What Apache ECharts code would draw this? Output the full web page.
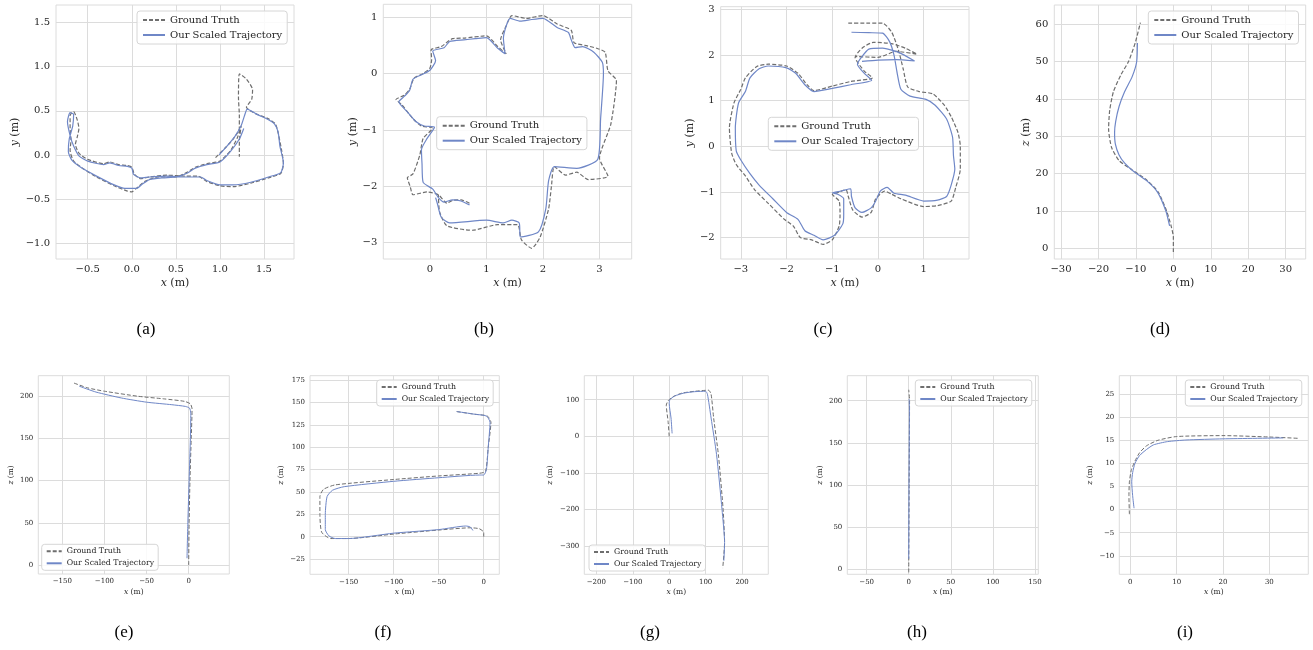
<!DOCTYPE html>
<html><head><meta charset="utf-8">
<script src="https://cdn.jsdelivr.net/npm/echarts@6/dist/echarts.min.js"></script>
<style>html,body{margin:0;padding:0;background:#fff}#c{width:1313px;height:650px}</style>
</head><body><div id="c"></div>
<script>
// ---------- data ----------
const seriesNames = ['Ground Truth', 'Our Scaled Trajectory'];

const aGT = [[0.95,-0.03],[1.05,0.07],[1.15,0.18],[1.22,0.3],[1.22,0.45],[1.21,0.65],[1.22,0.92],[1.3,0.86],[1.37,0.74],[1.36,0.63],[1.3,0.54],[1.4,0.47],[1.55,0.41],[1.63,0.35],[1.66,0.25],[1.7,0.05],[1.72,-0.1],[1.69,-0.21],[1.55,-0.26],[1.35,-0.32],[1.15,-0.36],[1.0,-0.35],[0.85,-0.3],[0.75,-0.24],[0.6,-0.24],[0.4,-0.23],[0.2,-0.25],[0.1,-0.27],[0.03,-0.22],[0.0,-0.14],[-0.05,-0.12],[-0.15,-0.11],[-0.25,-0.08],[-0.32,-0.1],[-0.5,-0.05],[-0.6,0.02],[-0.64,0.12],[-0.62,0.2],[-0.6,0.3],[-0.62,0.4],[-0.66,0.49],[-0.7,0.45],[-0.7,0.3],[-0.69,0.17],[-0.7,0.05],[-0.66,-0.07],[-0.56,-0.15],[-0.4,-0.25],[-0.2,-0.35],[-0.05,-0.41],[0.0,-0.42],[0.05,-0.38],[0.15,-0.3],[0.3,-0.25],[0.5,-0.25],[0.62,-0.2],[0.72,-0.14],[0.85,-0.1],[1.0,-0.07],[1.12,0.05],[1.2,0.2],[1.24,0.33],[1.22,0.15],[1.22,-0.02]];
const aOurs = [[0.99,0.0],[1.08,0.1],[1.17,0.21],[1.24,0.33],[1.28,0.45],[1.31,0.52],[1.42,0.46],[1.55,0.4],[1.62,0.35],[1.66,0.26],[1.68,0.1],[1.72,-0.09],[1.69,-0.2],[1.55,-0.25],[1.35,-0.31],[1.15,-0.34],[1.0,-0.34],[0.85,-0.29],[0.78,-0.25],[0.6,-0.25],[0.4,-0.24],[0.2,-0.25],[0.1,-0.26],[0.02,-0.22],[0.0,-0.15],[-0.05,-0.13],[-0.15,-0.12],[-0.25,-0.09],[-0.32,-0.11],[-0.5,-0.07],[-0.6,-0.01],[-0.66,0.1],[-0.7,0.22],[-0.73,0.38],[-0.7,0.48],[-0.66,0.46],[-0.67,0.33],[-0.71,0.18],[-0.72,0.04],[-0.68,-0.06],[-0.58,-0.14],[-0.4,-0.24],[-0.2,-0.34],[-0.08,-0.38],[0.05,-0.38],[0.12,-0.33],[0.2,-0.28],[0.35,-0.26],[0.5,-0.25],[0.62,-0.21],[0.72,-0.15],[0.85,-0.11],[1.0,-0.08],[1.12,0.04],[1.22,0.18],[1.27,0.3]];
const aXTicks = [-0.5, 0, 0.5, 1, 1.5];
const aYTicks = [-1, -0.5, 0, 0.5, 1, 1.5];

const bGT = [[0.7,-2.3],[0.55,-2.24],[0.4,-2.25],[0.3,-2.3],[0.15,-2.15],[-0.05,-2.1],[-0.3,-2.15],[-0.35,-2.0],[-0.4,-1.85],[-0.3,-1.78],[-0.18,-1.45],[-0.12,-1.15],[0.05,-0.97],[-0.15,-0.93],[-0.3,-0.8],[-0.5,-0.55],[-0.6,-0.46],[-0.45,-0.38],[-0.36,-0.28],[-0.28,-0.08],[-0.12,0.0],[0.0,0.1],[0.03,0.25],[0.02,0.42],[0.2,0.48],[0.4,0.62],[0.6,0.63],[1.0,0.67],[1.2,0.48],[1.35,0.35],[1.25,0.6],[1.35,0.85],[1.45,1.03],[1.7,0.98],[2.0,1.03],[2.25,0.88],[2.5,0.77],[2.55,0.55],[2.75,0.5],[2.95,0.45],[3.1,0.38],[3.15,0.05],[3.3,-0.12],[3.2,-0.9],[3.0,-1.5],[3.15,-1.82],[2.8,-1.88],[2.6,-1.75],[2.4,-1.8],[2.2,-1.65],[2.15,-2.0],[2.1,-2.4],[1.95,-2.9],[1.8,-3.1],[1.62,-2.95],[1.55,-2.68],[1.2,-2.68],[0.75,-2.78],[0.3,-2.7],[0.17,-2.45],[0.15,-2.15]];
const bOurs = [[0.7,-2.33],[0.55,-2.26],[0.4,-2.24],[0.25,-2.28],[0.15,-2.2],[0.05,-2.05],[-0.12,-1.93],[-0.14,-1.6],[-0.15,-1.35],[-0.05,-1.15],[0.08,-0.95],[-0.1,-0.93],[-0.25,-0.85],[-0.4,-0.68],[-0.55,-0.5],[-0.45,-0.4],[-0.36,-0.3],[-0.3,-0.1],[-0.15,-0.02],[0.0,0.06],[0.1,0.23],[0.05,0.4],[0.25,0.46],[0.35,0.57],[0.6,0.6],[0.8,0.62],[1.0,0.64],[1.2,0.45],[1.33,0.35],[1.3,0.63],[1.42,0.98],[1.6,0.93],[1.8,0.96],[2.0,0.98],[2.25,0.82],[2.45,0.73],[2.5,0.6],[2.57,0.46],[2.7,0.48],[2.9,0.38],[3.05,0.2],[3.07,0.0],[3.02,-0.8],[2.97,-1.52],[2.6,-1.68],[2.2,-1.65],[2.1,-1.9],[2.05,-2.4],[1.92,-2.81],[1.6,-2.9],[1.58,-2.65],[1.45,-2.6],[1.3,-2.65],[1.0,-2.6],[0.35,-2.65],[0.2,-2.55],[0.13,-2.3],[0.1,-2.2]];
const bXTicks = [0, 1, 2, 3];
const bYTicks = [-3, -2, -1, 0, 1];

const cGT = [[-0.65,2.7],[-0.2,2.7],[0.1,2.7],[0.3,2.5],[0.45,2.1],[0.55,1.7],[0.65,1.3],[0.9,1.2],[1.2,1.15],[1.45,0.9],[1.6,0.65],[1.75,0.3],[1.8,0.0],[1.8,-0.5],[1.7,-0.9],[1.6,-1.2],[1.3,-1.3],[1.0,-1.32],[0.5,-1.15],[0.3,-1.05],[0.15,-0.98],[-0.05,-1.15],[-0.15,-1.45],[-0.35,-1.55],[-0.55,-1.4],[-0.65,-1.1],[-0.7,-0.95],[-0.9,-1.02],[-1.0,-1.05],[-0.85,-1.2],[-0.83,-1.5],[-0.85,-1.75],[-1.0,-2.05],[-1.2,-2.15],[-1.45,-2.05],[-1.7,-2.0],[-1.85,-1.75],[-2.05,-1.6],[-2.4,-1.25],[-2.7,-0.95],[-2.9,-0.65],[-3.1,-0.4],[-3.2,-0.15],[-3.25,0.4],[-3.15,0.95],[-3.0,1.25],[-2.9,1.5],[-2.65,1.75],[-2.4,1.8],[-2.0,1.76],[-1.75,1.6],[-1.55,1.35],[-1.4,1.22],[-1.0,1.32],[-0.6,1.42],[-0.12,1.5],[-0.3,1.65],[-0.5,1.95],[-0.35,2.15],[-0.1,2.28],[0.3,2.25],[0.6,2.15],[0.85,2.02],[0.4,2.08],[0.0,1.95],[-0.5,1.97]];
const cOurs = [[-0.58,2.5],[-0.2,2.49],[0.1,2.48],[0.25,2.3],[0.35,2.0],[0.42,1.6],[0.5,1.25],[0.7,1.1],[1.05,1.03],[1.25,0.9],[1.5,0.6],[1.63,0.2],[1.65,-0.2],[1.68,-0.5],[1.6,-0.85],[1.5,-1.1],[1.3,-1.18],[1.0,-1.2],[0.6,-1.07],[0.35,-1.03],[0.2,-0.9],[0.05,-0.98],[-0.05,-1.2],[-0.15,-1.35],[-0.35,-1.45],[-0.5,-1.35],[-0.58,-1.1],[-0.6,-0.93],[-0.8,-0.98],[-1.0,-1.02],[-0.88,-1.05],[-0.75,-1.15],[-0.75,-1.5],[-0.77,-1.7],[-0.95,-1.95],[-1.2,-2.05],[-1.4,-1.95],[-1.6,-1.85],[-1.75,-1.6],[-2.0,-1.45],[-2.3,-1.15],[-2.6,-0.85],[-2.8,-0.6],[-3.0,-0.3],[-3.1,-0.1],[-3.12,0.4],[-3.05,0.95],[-2.9,1.2],[-2.8,1.5],[-2.6,1.7],[-2.4,1.76],[-2.0,1.72],[-1.8,1.6],[-1.6,1.35],[-1.4,1.2],[-1.0,1.27],[-0.6,1.35],[-0.14,1.45],[-0.3,1.6],[-0.45,1.8],[-0.4,1.9],[-0.2,2.13],[0.1,2.15],[0.45,2.06],[0.8,1.87],[0.4,1.9],[0.0,1.89],[-0.35,1.86]];
const cXTicks = [-3, -2, -1, 0, 1];
const cYTicks = [-2, -1, 0, 1, 2, 3];

const dGT = [[0,-1],[0,3],[-0.6,6],[-1.8,10],[-4,15],[-7,18.2],[-11,21],[-14.5,23.5],[-16.5,27],[-17.3,32],[-17,37],[-16,42],[-14,46.5],[-12,50],[-10.2,55],[-8.8,60.5]];
const dOurs = [[-1.0,6],[-2.0,10],[-4.2,15],[-7,18],[-10.5,20.5],[-13,22.8],[-14.5,25],[-15.5,28],[-15.7,31],[-15.4,34],[-14.5,38],[-13,42],[-11,46],[-9.8,50],[-9.6,55]];
const dXTicks = [-30, -20, -10, 0, 10, 20, 30];
const dYTicks = [0, 10, 20, 30, 40, 50, 60];

const eGT = [[0,0],[0.5,50],[1.5,100],[3,150],[4,185],[2,191],[-5,194],[-30,197],[-60,200],[-100,206],[-120,210],[-137,216]];
const eOurs = [[-2,8],[-1,50],[0.5,100],[2,150],[2.5,180],[1,186],[-4,188],[-20,190],[-50,193],[-80,198],[-110,205],[-130,212]];
const eXTicks = [-150, -100, -50, 0];
const eYTicks = [0, 50, 100, 150, 200];

const fGT = [[0,0],[0,5],[-5,9],[-15,10],[-50,7.5],[-100,3],[-150,-2],[-170,-2],[-180,5],[-182,25],[-182,45],[-178,53],[-165,58],[-100,64],[-50,68],[-5,71],[2,73],[5,100],[8,128],[4,135],[-10,137],[-30,140]];
const fOurs = [[-30,140],[-10,137],[3,135],[7,128],[5,100],[3,75],[0,69],[-5,69],[-50,66],[-100,62],[-155,56],[-168,52],[-174,45],[-176,25],[-176,8],[-172,1],[-165,-2],[-150,-2],[-100,4],[-50,8],[-20,12],[-15,11],[-12,7]];
const fXTicks = [-150, -100, -50, 0];
const fYTicks = [-25, 0, 25, 50, 75, 100, 125, 150, 175];

const gGT = [[0,0],[-3,40],[-8,85],[-3,97],[10,108],[35,118],[70,123],[108,126],[115,115],[122,50],[135,-50],[148,-200],[152,-290],[147,-360]];
const gOurs = [[8,8],[5,50],[0,90],[2,100],[15,110],[40,118],[70,122],[100,123],[105,115],[115,50],[130,-50],[145,-200],[152,-290],[150,-340]];
const gXTicks = [-200, -100, 0, 100, 200];
const gYTicks = [-300, -200, -100, 0, 100];

const hGT = [[0,-4],[0.5,100],[1,200],[0,213]];
const hOurs = [[0,12],[0.3,100],[0.8,190],[0.5,202]];
const hXTicks = [-50, 0, 50, 100, 150];
const hYTicks = [0, 50, 100, 150, 200];

const iGT = [[-0.2,-1],[-0.3,3],[-0.2,6],[0.2,8.5],[1,10.5],[2,12.3],[3.5,13.8],[6,15],[10,15.8],[20,16],[30,15.7],[36.5,15.4]];
const iOurs = [[0.8,0.3],[0.5,3],[0.3,6],[0.5,8],[1,10],[2,11.7],[3.5,13],[5,14],[8,14.7],[12,15.05],[20,15.3],[33,15.5]];
const iXTicks = [0, 10, 20, 30];
const iYTicks = [-10, -5, 0, 5, 10, 15, 20, 25];

const captions = ['(a)','(b)','(c)','(d)','(e)','(f)','(g)','(h)','(i)'];

// ---------- layout ----------
const panels = [
  {gt:aGT, ours:aOurs, xt:aXTicks, yt:aYTicks, dec:1, yv:'y', rect:[56,5,238,254],      xr:[-0.86,1.84], yr:[-1.18,1.70], leg:[137,11],     yGap:35, big:true, cap:[146,330]},
  {gt:bGT, ours:bOurs, xt:bXTicks, yt:bYTicks, dec:0, yv:'y', rect:[383.3,4.3,248.4,254.7], xr:[-0.825,3.57], yr:[-3.29,1.23], leg:[436.7,116.7], yGap:24, big:true, cap:[484,330]},
  {gt:cGT, ours:cOurs, xt:cXTicks, yt:cYTicks, dec:0, yv:'y', rect:[720.7,6.7,248.3,252.3], xr:[-3.44,1.99], yr:[-2.47,3.06], leg:[768.3,117.3], yGap:25, big:true, cap:[823,330]},
  {gt:dGT, ours:dOurs, xt:dXTicks, yt:dYTicks, dec:0, yv:'z', rect:[1054.3,5,251.4,254],  xr:[-31.8,35.35], yr:[-2.87,65.2], leg:[1148.3,11],   yGap:22, big:true, cap:[1160,330]},
  {gt:eGT, ours:eOurs, xt:eXTicks, yt:eYTicks, dec:0, yv:'z', rect:[38.3,375.7,191,198.3], xr:[-178.5,48.2], yr:[-10.7,224.4], leg:[41.7,544.3], yGap:23, big:false, cap:[124,633]},
  {gt:fGT, ours:fOurs, xt:fXTicks, yt:fYTicks, dec:0, yv:'z', rect:[310,375.7,189.3,198.6], xr:[-193,17.3], yr:[-42,180.1], leg:[376.7,380],  yGap:25, big:false, cap:[383,633]},
  {gt:gGT, ours:gOurs, xt:gXTicks, yt:gYTicks, dec:0, yv:'z', rect:[584.3,375.7,184,198.6], xr:[-233,272], yr:[-377,165.6], leg:[589,545],    yGap:30, big:false, cap:[650,633]},
  {gt:hGT, ours:hOurs, xt:hXTicks, yt:hYTicks, dec:0, yv:'z', rect:[847.3,375.7,191,198.6], xr:[-73,154], yr:[-6.3,229.7], leg:[915.3,380],   yGap:23, big:false, cap:[917,633]},
  {gt:iGT, ours:iOurs, xt:iXTicks, yt:iYTicks, dec:0, yv:'z', rect:[1119.3,375.7,189,198.6], xr:[-2.38,38.4], yr:[-14.0,28.96], leg:[1185.3,380], yGap:25, big:false, cap:[1185,633]}
];

const FONT = 'DejaVu Serif';
const TXT = '#262626';
const GRIDC = '#dcdcdc';
const BLUE = '#6f87c7';
const GRAY = '#6e6e6e';

function fmt(dec) {
  return v => (v < 0 ? '\u2212' : '') + Math.abs(v).toFixed(dec);
}

const option = {
  animation: false,
  backgroundColor: '#fff',
  grid: [], xAxis: [], yAxis: [], series: [], legend: [], graphic: []
};

panels.forEach((p, i) => {
  const tick = p.big ? 10 : 7;
  const nameSize = p.big ? 11 : 7.5;
  option.grid.push({
    left: p.rect[0], top: p.rect[1], width: p.rect[2], height: p.rect[3],
    show: true, borderColor: GRIDC, borderWidth: 1, backgroundColor: '#fff', containLabel: false
  });
  const nameStyle = () => ({
    fontFamily: FONT, fontSize: nameSize, color: TXT,
    rich: { i: { fontFamily: FONT, fontSize: nameSize, color: TXT, fontStyle: 'italic' } }
  });
  option.xAxis.push({
    gridIndex: i, type: 'value', min: p.xr[0], max: p.xr[1],
    name: '{i|x} (m)', nameLocation: 'middle', nameGap: p.big ? 19 : 14,
    nameTextStyle: nameStyle(),
    axisLine: { show: false },
    axisTick: { show: false, customValues: p.xt },
    axisLabel: { customValues: p.xt, formatter: fmt(p.dec), fontFamily: FONT, fontSize: tick, color: TXT, margin: p.big ? 5 : 4 },
    splitLine: { show: true, lineStyle: { color: GRIDC, width: 1 } }
  });
  option.yAxis.push({
    gridIndex: i, type: 'value', min: p.yr[0], max: p.yr[1],
    name: '{i|' + p.yv + '} (m)', nameLocation: 'middle', nameGap: p.yGap, nameRotate: 90,
    nameTextStyle: nameStyle(),
    axisLine: { show: false },
    axisTick: { show: false, customValues: p.yt },
    axisLabel: { customValues: p.yt, formatter: fmt(p.dec), fontFamily: FONT, fontSize: tick, color: TXT, margin: p.big ? 6 : 5 },
    splitLine: { show: true, lineStyle: { color: GRIDC, width: 1 } }
  });
  option.series.push({
    name: seriesNames[0], type: 'line', xAxisIndex: i, yAxisIndex: i,
    data: p.gt, symbol: 'none', smooth: 0.2, color: GRAY,
    lineStyle: { color: GRAY, width: p.big ? 1.2 : 1, type: [4, 2] }, z: 2
  });
  option.series.push({
    name: seriesNames[1], type: 'line', xAxisIndex: i, yAxisIndex: i,
    data: p.ours, symbol: 'none', smooth: 0.2, color: BLUE,
    lineStyle: { color: BLUE, width: p.big ? 1.2 : 1, type: 'solid' }, z: 3
  });
  option.legend.push({
    orient: 'vertical', left: p.leg[0], top: p.leg[1],
    data: seriesNames,
    itemWidth: p.big ? 22 : 15, itemHeight: p.big ? 10 : 8, itemGap: p.big ? 5 : 4,
    padding: p.big ? [4, 5, 4, 5] : [3, 4, 3, 4],
    itemStyle: { opacity: 0, borderWidth: 0 },
    backgroundColor: 'rgba(255,255,255,0.85)', borderColor: '#d6d6d6', borderWidth: 1, borderRadius: 3,
    textStyle: { fontFamily: FONT, fontSize: p.big ? 10 : 7.8, color: TXT },
    selectedMode: false
  });
  option.graphic.push({
    type: 'text', x: p.cap[0], y: p.cap[1],
    style: { text: captions[i], font: '17px "Liberation Serif"', fill: '#000', align: 'center', verticalAlign: 'middle' }
  });
});

const chart = echarts.init(document.getElementById('c'), null, { renderer: 'canvas' });
chart.setOption(option);
</script>
</body></html>
